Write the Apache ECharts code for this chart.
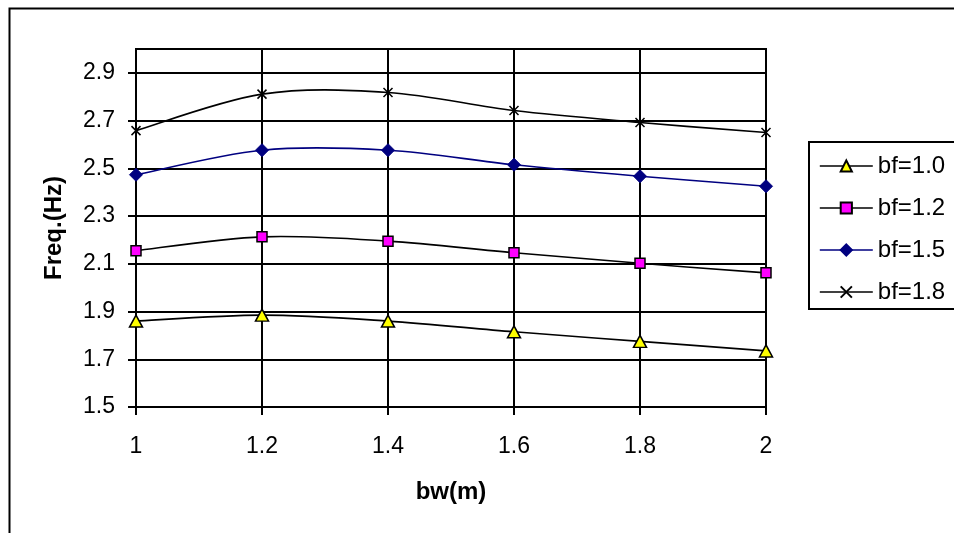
<!DOCTYPE html>
<html>
<head>
<meta charset="utf-8">
<script src="https://cdn.jsdelivr.net/npm/echarts@6/dist/echarts.min.js"></script>
<style>
html,body{margin:0;padding:0;background:#fff;}
#chart{width:954px;height:533px;}
</style>
</head>
<body>
<div id="chart"></div>
<script>
// Data
var bw = [1, 1.2, 1.4, 1.6, 1.8, 2];
var bf10 = [1.860, 1.885, 1.860, 1.815, 1.775, 1.735];
var bf12 = [2.155, 2.213, 2.195, 2.146, 2.102, 2.062];
var bf15 = [2.473, 2.576, 2.576, 2.515, 2.467, 2.425];
var bf18 = [2.658, 2.811, 2.818, 2.742, 2.692, 2.650];
var seriesNames = ['bf=1.0', 'bf=1.2', 'bf=1.5', 'bf=1.8'];
var yTickValues = [1.5, 1.7, 1.9, 2.1, 2.3, 2.5, 2.7, 2.9];
var xTitle = 'bw(m)';
var yTitle = 'Freq.(Hz)';

function pairs(ys) { return bw.map(function (x, i) { return [x, ys[i]]; }); }

// Excel-like smoothed curve drawn through the chart's own coordinate system
function smoothCurve(ys, color) {
  return {
    type: 'custom', name: '_curve_' + color, silent: true, z: 1,
    data: pairs(ys),
    renderItem: function (params, api) {
      if (params.dataIndex !== 0) return null;
      var P = ys.map(function (y, i) { return api.coord([bw[i], y]); });
      var n = P.length, children = [];
      for (var i = 0; i < n - 1; i++) {
        var p0 = i > 0 ? P[i - 1] : P[i];
        var p1 = P[i], p2 = P[i + 1];
        var p3 = i + 2 < n ? P[i + 2] : P[i + 1];
        children.push({
          type: 'bezierCurve',
          shape: {
            x1: p1[0], y1: p1[1], x2: p2[0], y2: p2[1],
            cpx1: p1[0] + (p2[0] - p0[0]) / 6, cpy1: p1[1] + (p2[1] - p0[1]) / 6,
            cpx2: p2[0] - (p3[0] - p1[0]) / 6, cpy2: p2[1] - (p3[1] - p1[1]) / 6
          },
          style: {stroke: color, lineWidth: 1.6, fill: null}
        });
      }
      return {type: 'group', children: children};
    }
  };
}

var FONT = "'Liberation Sans', Arial, sans-serif";
var chart = echarts.init(document.getElementById('chart'), null, {renderer: 'canvas'});

var lineColors = ['#000', '#000', '#000080', '#000'];

var option = {
  animation: false,
  backgroundColor: '#fff',
  graphic: [{
    type: 'rect', left: 7, top: 6, silent: true,
    shape: {x: 0, y: 0, width: 1000, height: 600},
    style: {fill: 'none', stroke: '#000', lineWidth: 2}
  }],
  grid: {left: 136, right: 188, top: 49, bottom: 126, show: true, borderColor: '#000', borderWidth: 2, backgroundColor: 'transparent'},
  legend: {
    orient: 'vertical', left: 809, top: 142,
    padding: [11, 20, 4, 10],
    borderColor: '#000', borderWidth: 2,
    itemWidth: 53, itemHeight: 14, itemGap: 16,
    textStyle: {fontFamily: FONT, fontSize: 24, color: '#000', lineHeight: 26},
    data: seriesNames.map(function (nm, i) {
      return {name: nm, lineStyle: {color: lineColors[i], width: 1.6, opacity: 1}};
    })
  },
  xAxis: {
    type: 'value', min: 1, max: 2, interval: 0.2,
    name: xTitle, nameLocation: 'middle', nameGap: 73,
    nameTextStyle: {fontFamily: FONT, fontSize: 24, fontWeight: 'bold', color: '#000'},
    axisLine: {show: true, lineStyle: {color: '#000', width: 2}},
    axisTick: {show: true, length: 8, lineStyle: {color: '#000', width: 2}},
    axisLabel: {margin: 28, fontFamily: FONT, fontSize: 23, color: '#000'},
    splitLine: {show: true, lineStyle: {color: '#000', width: 2}}
  },
  yAxis: {
    type: 'value', min: 1.5, max: 3.0, interval: 0.2,
    name: yTitle, nameLocation: 'middle', nameGap: 70, nameRotate: 90,
    nameTextStyle: {fontFamily: FONT, fontSize: 24, fontWeight: 'bold', color: '#000'},
    axisLine: {show: true, lineStyle: {color: '#000', width: 2}},
    axisTick: {show: true, length: 8, customValues: yTickValues, lineStyle: {color: '#000', width: 2}},
    axisLabel: {margin: 21, fontFamily: FONT, fontSize: 23, color: '#000', showMaxLabel: false,
      formatter: function (v) { return v.toFixed(1); }},
    splitLine: {show: true, lineStyle: {color: '#000', width: 2}}
  },
  series: [
    smoothCurve(bf10, '#000'),
    smoothCurve(bf12, '#000'),
    smoothCurve(bf15, '#000080'),
    smoothCurve(bf18, '#000'),
    {
      name: seriesNames[0], type: 'line', data: pairs(bf10), z: 3,
      symbol: 'triangle', symbolSize: [13, 12],
      lineStyle: {color: '#000', width: 1.6, opacity: 0},
      itemStyle: {color: '#FFFF00', borderColor: '#000', borderWidth: 1.5}
    },
    {
      name: seriesNames[1], type: 'line', data: pairs(bf12), z: 3,
      symbol: 'rect', symbolSize: 10,
      lineStyle: {color: '#000', width: 1.6, opacity: 0},
      itemStyle: {color: '#FF00FF', borderColor: '#000', borderWidth: 1.5}
    },
    {
      name: seriesNames[2], type: 'line', data: pairs(bf15), z: 3,
      symbol: 'diamond', symbolSize: 13,
      lineStyle: {color: '#000080', width: 1.6, opacity: 0},
      itemStyle: {color: '#000080', borderColor: '#000080', borderWidth: 1}
    },
    {
      name: seriesNames[3], type: 'line', data: pairs(bf18), z: 3,
      symbol: 'path://M0,0L10,10M10,0L0,10', symbolSize: 9,
      lineStyle: {color: '#000', width: 1.6, opacity: 0},
      itemStyle: {color: '#000', borderColor: '#000', borderWidth: 1.5}
    }
  ]
};
chart.setOption(option);
</script>
</body>
</html>
